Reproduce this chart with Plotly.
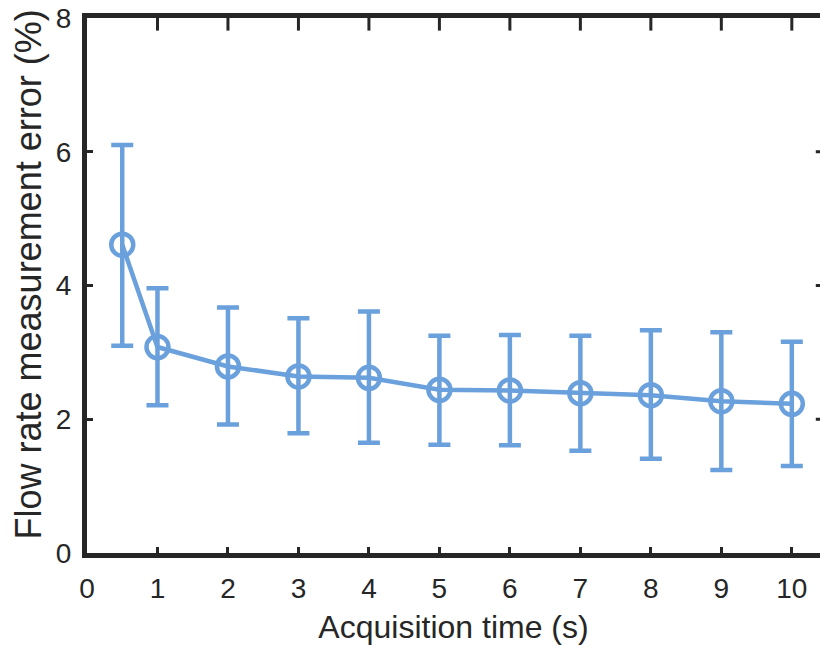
import plotly.graph_objects as go

acq_time = [0.5, 1, 2, 3, 4, 5, 6, 7, 8, 9, 10]
mean_err = [4.61, 3.08, 2.79, 2.64, 2.62, 2.44, 2.43, 2.39, 2.36, 2.27, 2.23]
upper = [6.10, 3.96, 3.67, 3.51, 3.61, 3.25, 3.26, 3.25, 3.33, 3.30, 3.16]
lower = [3.10, 2.21, 1.92, 1.79, 1.65, 1.62, 1.61, 1.53, 1.41, 1.24, 1.30]

err_plus = [u - m for u, m in zip(upper, mean_err)]
err_minus = [m - l for m, l in zip(mean_err, lower)]

x_ticks = list(range(0, 11))
y_ticks = [0, 2, 4, 6, 8]
x_range = [0, 10.4]
y_range = [0, 8]

color = "rgb(106,160,220)"
axis_color = "#262626"
font = "Liberation Sans, Arial, sans-serif"

W, H = 820, 651
M = dict(l=87, r=0, t=18, b=98)

fig = go.Figure()
fig.add_trace(go.Scatter(
    x=acq_time, y=mean_err, mode="lines+markers",
    line=dict(color=color, width=4.5),
    marker=dict(symbol="circle-open", size=22, color=color, line=dict(width=4.5, color=color)),
    error_y=dict(type="data", array=err_plus, arrayminus=err_minus, visible=True,
                 color=color, thickness=4.5, width=11),
    showlegend=False, hoverinfo="skip",
))

# inward mirrored tick marks: half of each line marker is clipped by the plot area
fig.add_trace(go.Scatter(
    x=x_ticks[1:], y=[y_range[1]] * len(x_ticks[1:]), mode="markers", cliponaxis=True,
    marker=dict(symbol="line-ns-open", size=18, color=axis_color,
                line=dict(width=3, color=axis_color)),
    showlegend=False, hoverinfo="skip",
))
fig.add_trace(go.Scatter(
    x=[x_range[1]] * len(y_ticks[1:-1]), y=y_ticks[1:-1], mode="markers", cliponaxis=True,
    marker=dict(symbol="line-ew-open", size=6, color=axis_color,
                line=dict(width=3, color=axis_color)),
    showlegend=False, hoverinfo="skip",
))

fig.update_layout(
    width=W, height=H,
    margin=M,
    paper_bgcolor="white", plot_bgcolor="white",
    font=dict(family=font, size=28, color=axis_color),
    xaxis=dict(range=x_range, tickvals=x_ticks, ticktext=[str(v) for v in x_ticks],
               showline=True, linewidth=5, linecolor=axis_color, mirror=True,
               ticks="inside", ticklen=6, tickwidth=3, tickcolor=axis_color,
               showgrid=False, zeroline=False, ticklabelstandoff=6,
               title=dict(text="Acquisition time (s)", font=dict(size=32), standoff=15),
               tickfont=dict(size=28)),
    yaxis=dict(range=y_range, tickvals=y_ticks, ticktext=[str(v) for v in y_ticks],
               showline=True, linewidth=5, linecolor=axis_color, mirror=False,
               ticks="inside", ticklen=6, tickwidth=3, tickcolor=axis_color,
               showgrid=False, zeroline=False, ticklabelstandoff=5,
               tickfont=dict(size=28)),
    annotations=[dict(text="Flow rate measurement error (%)", textangle=-90,
                      xref="paper", yref="paper", x=-0.0805, y=0.5206,
                      xanchor="center", yanchor="middle", showarrow=False,
                      font=dict(size=36, family=font, color=axis_color))],
)

fig.write_html("out.html",
               config={"displayModeBar": False, "staticPlot": True},
               post_script="document.body.style.margin='0';document.body.style.overflow='hidden';")
